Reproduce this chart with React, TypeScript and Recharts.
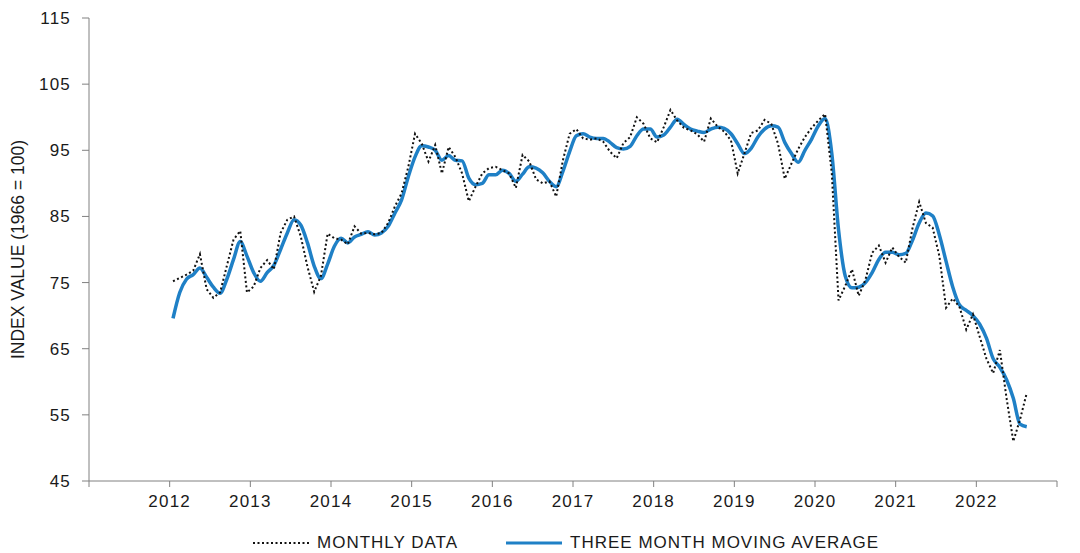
import { LineChart, Line, XAxis, YAxis, Legend } from "recharts"

// monthly index values, Jan 2012 .. Aug 2022
const START_YEAR = 2012

const monthlyData = [
    // 2012
    75.2, 75.7, 76.2, 76.8, 79.3, 74.0, 72.7, 73.5, 77.5, 81.5, 82.8, 73.5,
    // 2013
    74.4, 77.2, 78.4, 77.0, 82.5, 84.5, 85.0, 82.0, 77.4, 73.6, 76.0, 82.4,
    // 2014
    81.7, 81.5, 80.8, 83.5, 82.4, 82.5, 82.3, 82.5, 84.0, 86.5, 88.5, 92.5,
    // 2015
    97.5, 96.0, 93.3, 95.8, 91.5, 95.5, 94.0, 91.5, 87.3, 89.5, 91.5, 92.3,
    // 2016
    92.5, 92.0, 91.5, 89.3, 94.3, 93.3, 90.6, 90.0, 90.3, 88.0, 93.5, 97.5,
    // 2017
    98.2, 96.8, 96.6, 96.8, 96.3, 94.8, 93.8, 96.1, 97.0, 100.0, 99.0, 96.8,
    // 2018
    96.2, 98.5, 101.1, 99.5, 98.4, 98.0, 97.4, 96.3, 99.8, 98.6, 97.8, 96.5,
    // 2019
    91.5, 94.5, 97.6, 98.0, 99.6, 99.0, 96.0, 90.7, 93.0, 95.2, 97.0, 98.4,
    // 2020
    99.5, 100.5, 91.5, 72.3, 74.5, 77.0, 73.0, 75.4, 79.5, 80.6, 78.0, 80.3,
    // 2021
    78.9, 78.0, 83.2, 87.2, 84.0, 83.3, 79.0, 71.2, 72.6, 71.3, 67.9, 70.2,
    // 2022
    66.8, 63.5, 61.3, 64.8, 57.5, 51.0, 54.3, 58.3,
]

const movingAverage = [
    // 2012
    69.6, 73.5, 75.5, 76.2, 77.2, 75.8, 74.3, 73.4, 75.5, 78.5, 81.2, 79.0,
    // 2013
    76.5, 75.2, 76.5, 77.6, 80.0, 82.5, 84.5, 83.7, 81.0, 77.5, 75.6, 77.8,
    // 2014
    80.5, 81.7, 81.0, 81.9, 82.3, 82.7, 82.2, 82.5, 83.5, 85.5, 87.5, 91.0,
    // 2015
    94.0, 95.7, 95.5, 95.0, 93.5, 94.2, 93.5, 93.4, 90.8, 89.8, 90.0, 91.3,
    // 2016
    91.3, 92.0, 91.5, 90.3, 91.4, 92.5, 92.3, 91.6, 90.3, 89.5, 91.8, 94.8,
    // 2017
    97.2, 97.5, 97.0, 96.8, 96.8, 96.2, 95.4, 95.2, 95.6, 97.2, 98.2, 98.2,
    // 2018
    97.0, 97.3, 98.5, 99.7, 98.9, 98.2, 97.9, 97.7, 98.2, 98.5, 98.3, 97.5,
    // 2019
    96.0, 94.5, 95.3, 97.0, 98.2, 98.7, 98.5, 96.2, 94.5, 93.2, 95.0, 96.7,
    // 2020
    98.7, 99.8, 94.5, 83.0, 76.0, 74.2, 74.3, 75.0, 76.5, 78.5, 79.6, 79.6,
    // 2021
    79.2, 79.4, 81.4, 84.0, 85.5, 85.1, 82.2, 78.2, 74.3, 71.6, 70.8, 70.0,
    // 2022
    68.7, 66.6, 63.5, 62.2, 60.3, 57.5, 53.6, 53.2,
]

const yearTicks = [2011, 2012, 2013, 2014, 2015, 2016, 2017, 2018, 2019, 2020, 2021, 2022, 2023]
const labelledYears = [2012, 2013, 2014, 2015, 2016, 2017, 2018, 2019, 2020, 2021, 2022]
const valueTicks = [45, 55, 65, 75, 85, 95, 105, 115]

// each month is plotted at its middle
const data = monthlyData.map((v, i) => ({
    t: START_YEAR + (i + 0.5) / 12,
    monthly: v,
    avg: movingAverage[i],
}))

const FONT = "'Liberation Sans', Arial, sans-serif"
const TEXT = "#1a1a1a"
const AXIS = "#808080"
const BLUE = "#1f80c6"

function LegendRow({ payload }: any) {
    const items = [...(payload || [])].sort((a: any) => (a.dataKey === "monthly" ? -1 : 1))
    return (
        <div
            style={{
                display: "flex",
                alignItems: "center",
                height: 22,
                paddingLeft: 253,
                fontFamily: FONT,
                fontSize: 17,
                letterSpacing: 1,
                color: TEXT,
            }}
        >
            {items.map((p: any) => {
                const dotted = p.dataKey === "monthly"
                return (
                    <div key={p.dataKey} style={{ display: "flex", alignItems: "center", marginRight: 48 }}>
                        <svg width={56} height={6}>
                            <line
                                x1={0}
                                y1={3}
                                x2={56}
                                y2={3}
                                stroke={dotted ? "#111" : BLUE}
                                strokeWidth={dotted ? 2 : 3}
                                strokeDasharray={dotted ? "2 2.5" : undefined}
                            />
                        </svg>
                        <span style={{ marginLeft: 8 }}>{p.value}</span>
                    </div>
                )
            })}
        </div>
    )
}

export default function App() {
    return (
        <div style={{ position: "fixed", left: 0, top: 0, width: 1080, height: 553, background: "#fff" }}>
            <LineChart width={1080} height={553} data={data} margin={{ top: 18, right: 23, left: 0, bottom: 20 }}>
                <XAxis
                    dataKey="t"
                    type="number"
                    domain={[2011, 2023]}
                    ticks={yearTicks}
                    tickFormatter={(v: number) => (labelledYears.includes(v) ? String(v) : "")}
                    height={30}
                    stroke={AXIS}
                    tickSize={6}
                    tickMargin={8}
                    tick={{ fill: TEXT, fontSize: 17, fontFamily: FONT, letterSpacing: 1.2 }}
                    interval={0}
                />
                <YAxis
                    domain={[45, 115]}
                    ticks={valueTicks}
                    width={89}
                    stroke={AXIS}
                    tickSize={7}
                    tickMargin={11}
                    tick={{ fill: TEXT, fontSize: 17, fontFamily: FONT, letterSpacing: 1.2 }}
                    interval={0}
                    label={{
                        value: "INDEX VALUE (1966 = 100)",
                        angle: -90,
                        position: "insideLeft",
                        offset: 18,
                        style: { textAnchor: "middle", fill: TEXT, fontSize: 17.5, fontFamily: FONT },
                    }}
                />
                <Legend
                    verticalAlign="bottom"
                    content={<LegendRow />}
                    wrapperStyle={{ left: 0, top: 532, width: 1080, height: 22 }}
                />
                <Line
                    dataKey="avg"
                    name="THREE MONTH MOVING AVERAGE"
                    type="monotone"
                    stroke={BLUE}
                    strokeWidth={3.5}
                    dot={false}
                    activeDot={false}
                    isAnimationActive={false}
                />
                <Line
                    dataKey="monthly"
                    name="MONTHLY DATA"
                    type="linear"
                    stroke="#111"
                    strokeWidth={2}
                    strokeDasharray="2 2.5"
                    dot={false}
                    activeDot={false}
                    isAnimationActive={false}
                />
            </LineChart>
        </div>
    )
}
